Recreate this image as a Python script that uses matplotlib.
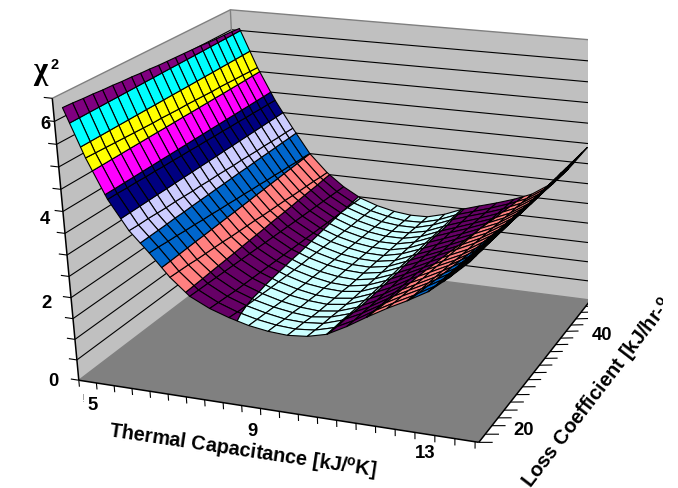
import numpy as np
import matplotlib
matplotlib.use("Agg")
import matplotlib.pyplot as plt
from matplotlib.transforms import Bbox
from mpl_toolkits.mplot3d.art3d import Poly3DCollection

# Data
thermal = [4.56, 5.0, 5.44, 5.89, 6.33, 6.78, 7.22, 7.67, 8.11, 8.56, 9.0,
           9.44, 9.89, 10.33, 10.78, 11.22, 11.67, 12.11, 12.56, 13.0, 13.44]
loss = [15.4, 16.9, 18.5, 20.0, 21.5, 23.1, 24.6, 26.2, 27.7, 29.2, 30.8,
        32.3, 33.8, 35.4, 36.9, 38.5, 40.0, 41.5, 43.1, 44.6, 46.2]
# one row per thermal value, one column per loss value
chi2 = [
    [6.32, 6.31, 6.29, 6.28, 6.26, 6.25, 6.23, 6.22, 6.20, 6.19, 6.17, 6.16, 6.15, 6.14, 6.13, 6.12, 6.10, 6.09, 6.08, 6.07, 6.05],
    [5.27, 5.26, 5.25, 5.24, 5.23, 5.22, 5.21, 5.20, 5.20, 5.19, 5.18, 5.18, 5.17, 5.16, 5.15, 5.15, 5.14, 5.13, 5.12, 5.11, 5.10],
    [4.40, 4.40, 4.39, 4.39, 4.38, 4.38, 4.37, 4.37, 4.36, 4.36, 4.35, 4.35, 4.34, 4.34, 4.33, 4.33, 4.32, 4.32, 4.31, 4.31, 4.30],
    [3.75, 3.74, 3.74, 3.73, 3.72, 3.72, 3.71, 3.70, 3.70, 3.69, 3.69, 3.68, 3.67, 3.67, 3.66, 3.65, 3.65, 3.64, 3.63, 3.63, 3.62],
    [3.30, 3.29, 3.27, 3.26, 3.24, 3.23, 3.21, 3.20, 3.18, 3.17, 3.15, 3.14, 3.12, 3.11, 3.09, 3.08, 3.06, 3.05, 3.03, 3.02, 3.00],
    [2.80, 2.79, 2.78, 2.76, 2.75, 2.74, 2.73, 2.71, 2.70, 2.69, 2.68, 2.66, 2.65, 2.64, 2.63, 2.61, 2.60, 2.59, 2.58, 2.56, 2.55],
    [2.42, 2.41, 2.40, 2.39, 2.38, 2.37, 2.36, 2.35, 2.34, 2.33, 2.32, 2.31, 2.30, 2.29, 2.28, 2.27, 2.26, 2.25, 2.24, 2.23, 2.22],
    [2.20, 2.18, 2.16, 2.14, 2.13, 2.12, 2.11, 2.10, 2.09, 2.08, 2.07, 2.06, 2.05, 2.04, 2.03, 2.02, 2.01, 2.00, 1.99, 1.98, 1.97],
    [2.05, 2.02, 2.00, 1.98, 1.97, 1.95, 1.94, 1.93, 1.92, 1.91, 1.91, 1.90, 1.89, 1.88, 1.87, 1.86, 1.85, 1.85, 1.84, 1.83, 1.82],
    [1.93, 1.91, 1.89, 1.87, 1.85, 1.83, 1.82, 1.80, 1.80, 1.79, 1.79, 1.78, 1.77, 1.77, 1.76, 1.75, 1.75, 1.74, 1.73, 1.73, 1.72],
    [1.86, 1.84, 1.81, 1.80, 1.77, 1.76, 1.74, 1.74, 1.72, 1.72, 1.72, 1.71, 1.71, 1.70, 1.70, 1.69, 1.69, 1.68, 1.68, 1.67, 1.67],
    [1.83, 1.81, 1.79, 1.76, 1.74, 1.73, 1.72, 1.72, 1.70, 1.70, 1.70, 1.70, 1.70, 1.69, 1.69, 1.69, 1.69, 1.69, 1.68, 1.68, 1.68],
    [1.87, 1.85, 1.83, 1.82, 1.80, 1.79, 1.78, 1.78, 1.78, 1.78, 1.78, 1.78, 1.78, 1.79, 1.79, 1.79, 1.79, 1.79, 1.80, 1.80, 1.80],
    [1.98, 1.97, 1.97, 1.96, 1.95, 1.95, 1.95, 1.95, 1.95, 1.95, 1.96, 1.96, 1.96, 1.96, 1.97, 1.97, 1.97, 1.97, 1.98, 1.98, 1.98],
    [2.22, 2.20, 2.19, 2.18, 2.17, 2.16, 2.16, 2.16, 2.16, 2.15, 2.15, 2.15, 2.14, 2.14, 2.14, 2.14, 2.13, 2.13, 2.13, 2.12, 2.12],
    [2.49, 2.47, 2.45, 2.44, 2.43, 2.42, 2.41, 2.40, 2.38, 2.37, 2.36, 2.34, 2.33, 2.32, 2.31, 2.30, 2.29, 2.28, 2.27, 2.26, 2.25],
    [2.75, 2.72, 2.70, 2.68, 2.66, 2.64, 2.63, 2.61, 2.59, 2.58, 2.56, 2.54, 2.53, 2.51, 2.50, 2.48, 2.46, 2.45, 2.43, 2.42, 2.40],
    [2.98, 2.95, 2.93, 2.91, 2.89, 2.87, 2.85, 2.82, 2.80, 2.78, 2.77, 2.75, 2.73, 2.71, 2.69, 2.67, 2.65, 2.64, 2.62, 2.60, 2.58],
    [3.24, 3.21, 3.19, 3.17, 3.15, 3.13, 3.11, 3.09, 3.07, 3.06, 3.04, 3.02, 3.01, 2.99, 2.98, 2.96, 2.94, 2.93, 2.91, 2.90, 2.88],
    [3.60, 3.58, 3.56, 3.54, 3.52, 3.50, 3.49, 3.47, 3.46, 3.45, 3.44, 3.42, 3.41, 3.40, 3.39, 3.38, 3.37, 3.35, 3.34, 3.33, 3.32],
    [4.00, 4.00, 3.99, 3.99, 3.98, 3.98, 3.97, 3.97, 3.96, 3.96, 3.95, 3.95, 3.94, 3.94, 3.93, 3.93, 3.92, 3.92, 3.91, 3.91, 3.90],
]
band_edges = [1.5, 2.0, 2.5, 3.0, 3.5, 4.0, 4.5, 5.0, 5.5, 6.0, 6.5]
band_colors = ["#CCFFFF", "#660066", "#FF8080", "#0066CC", "#CCCCFF",
               "#000080", "#FF00FF", "#FFFF00", "#00FFFF", "#800080"]
z_ticks = [0.5 * k for k in range(14)]
z_labels = {0: "0", 2: "2", 4: "4", 6: "6"}
thermal_labels = {1: "5", 10: "9", 19: "13"}
loss_labels = {3: "20", 16: "40"}
z_top = 6.5

plt.rcParams["font.family"] = ["Liberation Sans", "DejaVu Sans"]
plt.rcParams["font.weight"] = "bold"
plt.rcParams["mathtext.fontset"] = "custom"
plt.rcParams["mathtext.bf"] = "Liberation Sans:bold"
plt.rcParams["mathtext.rm"] = "Liberation Sans:bold"

W, H = 678, 489
fig = plt.figure(figsize=(W / 100, H / 100), dpi=100, facecolor="white")
ax = fig.add_axes([0, 0, 1, 1], projection="3d")
ax.set_axis_off()
ax.patch.set_visible(False)
ax.computed_zorder = False

# the thermal axis runs half a category past the first and last points
t_step = thermal[1] - thermal[0]
t_lo, t_hi = thermal[0] - t_step / 2, thermal[-1] + t_step / 2
l_lo, l_hi = loss[0], loss[-1]

# box corners -> where they sit in the picture (pixels, y down)
corners = [
    ((t_lo, l_lo, 0), (78, 380)),
    ((t_hi, l_lo, 0), (480, 443)),
    ((t_hi, l_hi, 0), (590, 302)),
    ((t_lo, l_hi, 0), (243, 257)),
    ((t_lo, l_lo, z_top), (52, 101)),
    ((t_lo, l_hi, z_top), (231, 10)),
    ((t_hi, l_hi, z_top), (600, 41)),
]
rows = []
for (x, y, z), (u, v) in corners:
    v = H - v
    rows.append([x, y, z, 1, 0, 0, 0, 0, -u * x, -u * y, -u * z, -u])
    rows.append([0, 0, 0, 0, x, y, z, 1, -v * x, -v * y, -v * z, -v])
P = np.linalg.svd(np.array(rows, float))[2][-1].reshape(3, 4)
if P[2] @ np.array([thermal[10], loss[10], 3, 1]) < 0:
    P = -P


def fitted_proj():
    # pixels back to the axes' own projected coordinates
    A = ax.transData.inverted().get_matrix()
    M2 = A @ P
    return np.array([M2[0], M2[1], [0, 0, 0, -1], M2[2]])


ax.get_proj = fitted_proj
clip = Bbox([[0, 0], [588, H]])


def clip_band(poly, lo, hi):
    # keep the part of a cell between two chi2 levels
    for level, sign in ((lo, 1), (hi, -1)):
        out = []
        for a, b in zip(poly, poly[1:] + poly[:1]):
            da, db = sign * (a[2] - level), sign * (b[2] - level)
            if da >= 0:
                out.append(a)
            if da * db < 0:
                s = da / (da - db)
                out.append(tuple(a[k] + s * (b[k] - a[k]) for k in range(3)))
        poly = out
        if not poly:
            return []
    return poly


def add_polys(polys, faces, edges, lw, zorder):
    c = Poly3DCollection(polys, facecolors=faces, edgecolors=edges,
                         linewidths=lw, zorder=zorder)
    ax.add_collection3d(c)
    c.set_clip_box(clip)
    return c


def line(xs, ys, zs, color="black", lw=0.8, zorder=2):
    l = ax.plot(xs, ys, zs, color=color, lw=lw, zorder=zorder,
                solid_capstyle="butt")[0]
    l.set_clip_box(clip)


# walls and floor
add_polys([[(t_lo, l_lo, 0), (t_lo, l_hi, 0), (t_lo, l_hi, z_top), (t_lo, l_lo, z_top)],
           [(t_lo, l_hi, 0), (t_hi, l_hi, 0), (t_hi, l_hi, z_top), (t_lo, l_hi, z_top)]],
          "#C0C0C0", "none", 0, 1)
add_polys([[(t_lo, l_lo, 0), (t_hi, l_lo, 0), (t_hi, l_hi, 0), (t_lo, l_hi, 0)]],
          "#808080", "none", 0, 1.5)

for z in z_ticks[1:-1]:
    line([t_lo, t_lo, t_hi], [l_lo, l_hi, l_hi], [z, z, z])
line([t_lo, t_lo, t_hi], [l_lo, l_hi, l_hi], [z_top, z_top, z_top], "#808080", 1.0)
line([t_lo, t_lo], [l_hi, l_hi], [0, z_top], "#808080", 1.0)
line([t_lo, t_lo, t_hi], [l_lo, l_hi, l_hi], [0, 0, 0], "#808080", 1.0)

# surface, split into the chi2 colour bands
polys, faces = [], []
for i in range(len(thermal) - 1):
    for j in range(len(loss) - 1):
        cell = [(thermal[i], loss[j], chi2[i][j]),
                (thermal[i + 1], loss[j], chi2[i + 1][j]),
                (thermal[i + 1], loss[j + 1], chi2[i + 1][j + 1]),
                (thermal[i], loss[j + 1], chi2[i][j + 1])]
        for b, col in enumerate(band_colors):
            part = clip_band(cell, band_edges[b], band_edges[b + 1])
            if len(part) >= 3:
                polys.append(part)
                faces.append(col)
add_polys(polys, faces, "black", 0.8, 3)

# axis lines and ticks
line([t_lo, t_lo], [l_lo, l_lo], [0, z_top], lw=1.1, zorder=4)
line([t_lo, t_hi], [l_lo, l_lo], [0, 0], lw=1.1, zorder=4)
line([t_hi, t_hi], [l_lo, l_hi], [0, 0], lw=1.1, zorder=4)
for k in range(len(thermal) + 1):
    x = t_lo + k * t_step
    line([x, x], [l_lo, l_lo], [0, -0.16], zorder=4)
for y in loss:
    line([t_hi, t_hi + 0.3], [y, y], [0, 0.05], zorder=4)
for z in z_ticks:
    line([t_lo - 0.2, t_lo], [l_lo, l_lo], [z, z], zorder=4)


def label(x, y, z, s, dx, dy, **kw):
    # text sits at the projected tick, moved by a few pixels
    u, v, w = P @ np.array([x, y, z, 1.0])
    fig.text((u / w + dx) / W, (v / w + dy) / H, s, ha="center", va="center", **kw)


for (k, s), (dx, dy) in zip(z_labels.items(), [(-25, 0), (-25, -5), (-18, -7), (-9, -2)]):
    label(t_lo, l_lo, k, s, dx, dy, fontsize=13.3)
for (i, s), (dx, dy) in zip(thermal_labels.items(), [(-13, -20), (-19, -20), (-23, -15)]):
    label(thermal[i], l_lo, 0, s, dx, dy, fontsize=13.3)
for (j, s), (dx, dy) in zip(loss_labels.items(), [(26, -12), (31, -9)]):
    label(t_hi, loss[j], 0, s, dx, dy, fontsize=13.3)
label(t_lo, l_lo, 0, "!", 5, -18, fontsize=8, color="#999999", fontweight="normal")

# axis titles
fig.text(243 / W, 1 - 451 / H, r"Thermal Capacitance [kJ/$^{\mathbf{o}}$K]",
         rotation=-8.5, ha="center", va="center", fontsize=14.3,
         rotation_mode="anchor")
t = fig.text(526 / W, 1 - 486 / H, r"Loss Coefficient [kJ/hr-$^{\mathbf{o}}$C]",
             rotation=52.5, ha="left", va="center", fontsize=14.5,
             rotation_mode="anchor")
t.set_clip_box(Bbox([[0, 0], [663, H]]))
t.set_clip_on(True)
fig.text(40 / W, 1 - 72 / H, "\u03c7", family="Liberation Serif", fontsize=22,
         ha="center", va="center")
fig.text(55 / W, 1 - 65 / H, "2", fontsize=10.5, ha="center", va="center")

fig.savefig("out.png", dpi=100)
